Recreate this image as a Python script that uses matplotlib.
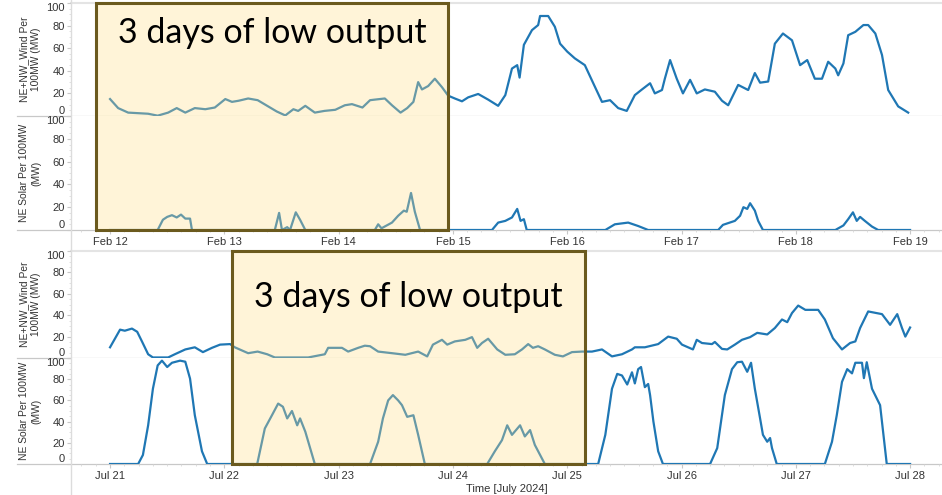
import numpy as np
import matplotlib.pyplot as plt
from matplotlib.lines import Line2D
from matplotlib.patches import Rectangle
from matplotlib.ticker import MultipleLocator
from matplotlib.transforms import blended_transform_factory

# (hours after midnight of the first day, MW per 100 MW installed)
feb_wind = [(0, 15), (1.7, 7), (3.8, 3), (5.9, 2.5), (8, 2), (10, 0.3), (12.2, 3), (14, 7), (15.8, 3),
            (17.8, 7), (20, 6), (22, 7.5), (24.2, 15), (25.6, 12.5), (27, 13.5), (29, 15.5), (31, 14),
            (33, 9), (35, 4), (36.8, 0.5), (38.5, 6), (39.5, 4.5), (41, 9), (43, 3), (45, 4.5), (47.3, 5.5),
            (49.3, 9.5), (50.8, 10.5), (53, 7.5), (54.6, 14), (55.6, 14.5), (57.7, 15.5), (59.2, 9.5),
            (61, 3), (62.4, 7), (63.7, 12.5), (64.7, 30), (65.5, 23.5), (66.8, 26.5), (68.2, 33),
            (69.7, 25.5), (71, 18), (72.4, 15.5), (73.9, 13), (75.2, 16.5), (77.3, 19.5), (79.4, 14.5),
            (81.5, 9), (83, 18.5), (84.4, 42), (85.5, 45), (86, 34), (86.9, 63), (88.6, 76), (89.9, 80.5),
            (90.3, 88.5), (92, 88.5), (93.4, 79), (94.5, 64), (96, 57), (97.6, 51), (99.7, 45),
            (101.8, 26), (103.3, 12.5), (105, 14), (106.7, 7), (108.5, 4.5), (110.2, 18.5), (111.7, 23.5),
            (113.4, 29), (114.4, 20), (115.9, 23), (116.5, 33), (117.6, 49.5), (119, 33), (120.3, 20),
            (121.8, 32), (123.2, 20), (124.9, 23.5), (127, 21.5), (128.5, 13.5), (129.8, 9.5),
            (131.9, 27.5), (134, 23), (135.4, 38), (136.5, 29.5), (138.2, 30.5), (139.6, 64), (141.3, 73),
            (143.2, 67), (144.9, 45), (146.4, 49.5), (148, 33), (149.5, 33), (150.8, 48), (152.3, 42),
            (152.9, 36), (154, 46.5), (155, 71.5), (156.5, 74.5), (158.2, 80.5), (159.2, 80.5),
            (160.7, 73), (162.1, 54), (163.4, 23), (165.5, 8.5), (167.6, 3)]

feb_solar = [(0, 0), (10, 0), (11.1, 9), (12, 11.5), (13, 13), (14, 11), (14.9, 13.5), (15.8, 10),
             (16.8, 10), (17.2, 0), (34.6, 0), (35.5, 15), (36.1, 0), (37.2, 2.5), (37.8, 0), (39, 15.5),
             (39.9, 9), (41, 0), (55.6, 0), (56.3, 5), (57, 1.5), (59.2, 6.5), (60.5, 12.5), (61.7, 17),
             (62.3, 16), (63.2, 32.5), (64, 16), (65.1, 0), (80.2, 0), (81.5, 6.5), (83, 8), (84.4, 11),
             (85.5, 18.5), (86.2, 8), (86.9, 9.5), (87.5, 0), (104, 0), (106, 5), (108.8, 6.5),
             (110.2, 4.5), (110.9, 3.5), (113, 0), (127.7, 0), (128.7, 4.5), (131.2, 8), (132.3, 12.5),
             (133, 20), (133.8, 18.5), (134.4, 23.5), (135.4, 17), (136.1, 8), (137.1, 0), (152.3, 0),
             (154, 4), (155, 9.5), (156, 15.5), (156.8, 8), (157.5, 11.5), (158.5, 8), (160, 3),
             (161.3, 0), (168, 0)]

jul_wind = [(0, 10), (2.1, 26.5), (3.1, 25.5), (4.6, 27.5), (5.7, 24.5), (6.7, 15.5), (8, 3.5), (9, 0.5),
            (12.2, 0.5), (13.6, 3.5), (15.8, 8), (17.8, 10), (19.5, 5.5), (21.4, 9.5), (23.1, 12.5),
            (25.2, 13), (26.2, 10), (29, 4.5), (31, 6), (33, 3.5), (34.6, 0.5), (41.6, 0.5), (45.1, 3.5),
            (45.8, 9.5), (48.7, 9.5), (50, 6), (52.1, 9.5), (53.5, 11.5), (54.6, 11), (56.3, 6),
            (59.2, 4.5), (62, 3), (64.7, 6), (66.6, 1.5), (67.8, 12.5), (69.7, 17), (70.8, 12.5),
            (72.4, 15.5), (74.6, 17), (76, 19.5), (77.1, 9.5), (78.1, 14), (79.4, 18), (81.3, 8), (83, 3),
            (85, 3.5), (86.5, 8), (87.8, 13), (88.8, 9.5), (89.9, 11), (91.3, 8), (93.4, 3), (95.1, 1.5),
            (97, 5.5), (99.1, 6), (101.2, 6), (103.3, 8), (105.4, 1.5), (107.5, 3.5), (109.6, 8),
            (110.2, 10), (112.3, 10), (115.1, 13), (117.2, 20), (119, 18), (120.1, 12.5), (122.4, 8),
            (123.2, 17), (124.3, 14), (126.4, 13), (127, 15), (128.5, 8.5), (129.6, 8), (131.2, 12.5),
            (132.7, 17), (134.4, 19.5), (135.9, 23.5), (138, 22), (139.6, 28), (141.1, 36), (142.2, 33.5),
            (143.2, 42), (144.5, 49), (146, 45), (148.7, 45), (150.1, 36), (151.8, 18.5), (153.7, 8),
            (155.4, 14), (156.5, 15.5), (157.5, 28), (159.2, 43.5), (162.1, 41), (163.8, 31),
            (165.3, 41), (166.3, 28), (167, 20), (168, 28.5)]

jul_solar = [(0, 0), (5.9, 0), (6.9, 8.5), (8, 36.5), (9, 71), (10, 93), (10.9, 97.5), (12, 91.5),
             (13, 95.5), (14.7, 97.5), (15.8, 96.5), (16.8, 80.5), (17.8, 46), (19.3, 12), (20.4, 0),
             (30.9, 0), (32.5, 33.5), (34, 46), (35.3, 57), (36.3, 54), (37.2, 43), (38.2, 50),
             (39.3, 36.5), (39.9, 43), (41, 30.5), (43, 0), (54.6, 0), (56.3, 21), (57.3, 43), (58.4, 60),
             (59.4, 65), (60.5, 60), (61.3, 55.5), (62.4, 44.5), (63.7, 46), (64.7, 27.5), (66.1, 0),
             (79.2, 0), (80.8, 12), (82.3, 22.5), (83.4, 36.5), (84.4, 27.5), (86.1, 36.5), (87.1, 26),
             (88.2, 32), (89.2, 18), (91.3, 0), (102.5, 0), (104, 27.5), (105.4, 71), (106.5, 85),
             (107.5, 83.5), (108.6, 75), (109.6, 86.5), (110.2, 76), (110.9, 89.5), (111.5, 91.5),
             (112.3, 72.5), (113, 75.5), (113.4, 65), (114.1, 40), (115.1, 12), (116.1, 0), (126, 0),
             (127.5, 15), (129.1, 65), (130.6, 89.5), (131.7, 96), (132.7, 96.5), (133.8, 87),
             (134.6, 95.5), (135.4, 71), (136.5, 43), (137.1, 27.5), (138, 21), (138.6, 24.5), (139, 15),
             (140, 0), (150.1, 0), (151.6, 21), (152.6, 46), (153.7, 77.5), (154.8, 89.5), (155.8, 85.5),
             (156.5, 95.5), (157.9, 95.5), (158.3, 81), (158.9, 96), (160, 71), (161.7, 55.5),
             (163.1, 0), (168, 0)]

feb_days = ["Feb 12", "Feb 13", "Feb 14", "Feb 15", "Feb 16", "Feb 17", "Feb 18", "Feb 19"]
jul_days = ["Jul 21", "Jul 22", "Jul 23", "Jul 24", "Jul 25", "Jul 26", "Jul 27", "Jul 28"]
y_ticks = [0, 20, 40, 60, 80, 100]

# hours covered by the "low output" highlight in each period
feb_low = (-3, 71)
jul_low = (25.6, 99.7)
low_text = "3 days of low output"

wind_label = "NE+NW_Wind Per\n100MW (MW)"
solar_label = "NE Solar Per 100MW\n(MW)"

plt.rcParams['font.family'] = ['Liberation Sans', 'DejaVu Sans']

W, H = 942, 495
fig = plt.figure(figsize=(W / 100, H / 100), dpi=100)
left = 71 / W
line_col = '#1f77b4'
rule = '#c8c8c8'
text_col = '#333333'


def pane(top_px, bot_px):
    return fig.add_axes([left, 1 - bot_px / H, 1 - left, (bot_px - top_px) / H])


def style(ax, series, label, days=None, first=False):
    ax.set_xlim(-8.2, 174.7)
    ax.set_ylim(0, 100)
    for s in ax.spines.values():
        s.set_visible(False)
    h = np.array([p[0] for p in series])
    v = np.array([p[1] for p in series])
    ax.plot(h, v, color=line_col, lw=1.6, zorder=3)

    ax.set_yticks(y_ticks)
    ax.yaxis.set_minor_locator(MultipleLocator(5))
    ax.tick_params(axis='y', which='major', length=3, width=0.8, color=rule,
                   pad=1.5, labelsize=8, labelcolor=text_col)
    ax.tick_params(axis='y', which='minor', length=1.5, width=0.6, color='#dddddd')
    ticks = ax.yaxis.get_major_ticks()
    ticks[0].label1.set_va('bottom')
    ticks[-1].label1.set_va('top')

    ax.text(-41 / 871, 0.5, label, transform=ax.transAxes, rotation=90, ha='center',
            va='center', ma='center', fontsize=7.4, color=text_col, linespacing=1.25)

    # bottom rule, extends under the labels
    ax.plot([-54 / 871, 1], [0, 0], transform=ax.transAxes, color=rule, lw=0.9,
            clip_on=False, zorder=1)
    if first:
        ax.plot([0, 1], [1, 1], transform=ax.transAxes, color='#e4e4e4', lw=1.5,
                clip_on=False, zorder=1)

    if days is None:
        ax.tick_params(axis='x', which='both', bottom=False, labelbottom=False)
    else:
        ax.set_xticks([24 * i for i in range(len(days))], days)
        ax.xaxis.set_minor_locator(MultipleLocator(3))
        ax.tick_params(axis='x', which='major', length=3, width=0.8, color=rule,
                       pad=2, labelsize=8, labelcolor=text_col)
        ax.tick_params(axis='x', which='minor', length=1.5, width=0.6, color='#d8d8d8')


ax_fw = pane(3, 116)
ax_fs = pane(116, 230)
ax_jw = pane(251, 358)
ax_js = pane(358, 464)

style(ax_fw, feb_wind, wind_label, first=True)
style(ax_fs, feb_solar, solar_label, days=feb_days)
style(ax_jw, jul_wind, wind_label, first=True)
style(ax_js, jul_solar, solar_label, days=jul_days)
ax_js.set_xlabel("Time [July 2024]", fontsize=8, color=text_col, labelpad=2)

fig.add_artist(Line2D([left, left], [0, 1], color='#dcdcdc', lw=1.0, transform=fig.transFigure, zorder=1))


def highlight(ax_top, ax_bot, span, text_y_px):
    tr = blended_transform_factory(ax_bot.transData, fig.transFigure)
    y0 = ax_bot.get_position().y0
    y1 = ax_top.get_position().y1
    rect = Rectangle((span[0], y0), span[1] - span[0], y1 - y0, transform=tr,
                     facecolor=(1.0, 0.878, 0.54, 0.33), edgecolor='#6b5a1e', lw=2.2, zorder=5)
    fig.add_artist(rect)
    fig.text((span[0] + span[1]) / 2, 1 - text_y_px / H, low_text, transform=tr,
             ha='center', va='center', fontsize=24.5, family=['Lato', 'DejaVu Sans'],
             color='black', zorder=6)


highlight(ax_fw, ax_fs, feb_low, 33)
highlight(ax_jw, ax_js, jul_low, 297)

fig.savefig("out.png", dpi=100)
